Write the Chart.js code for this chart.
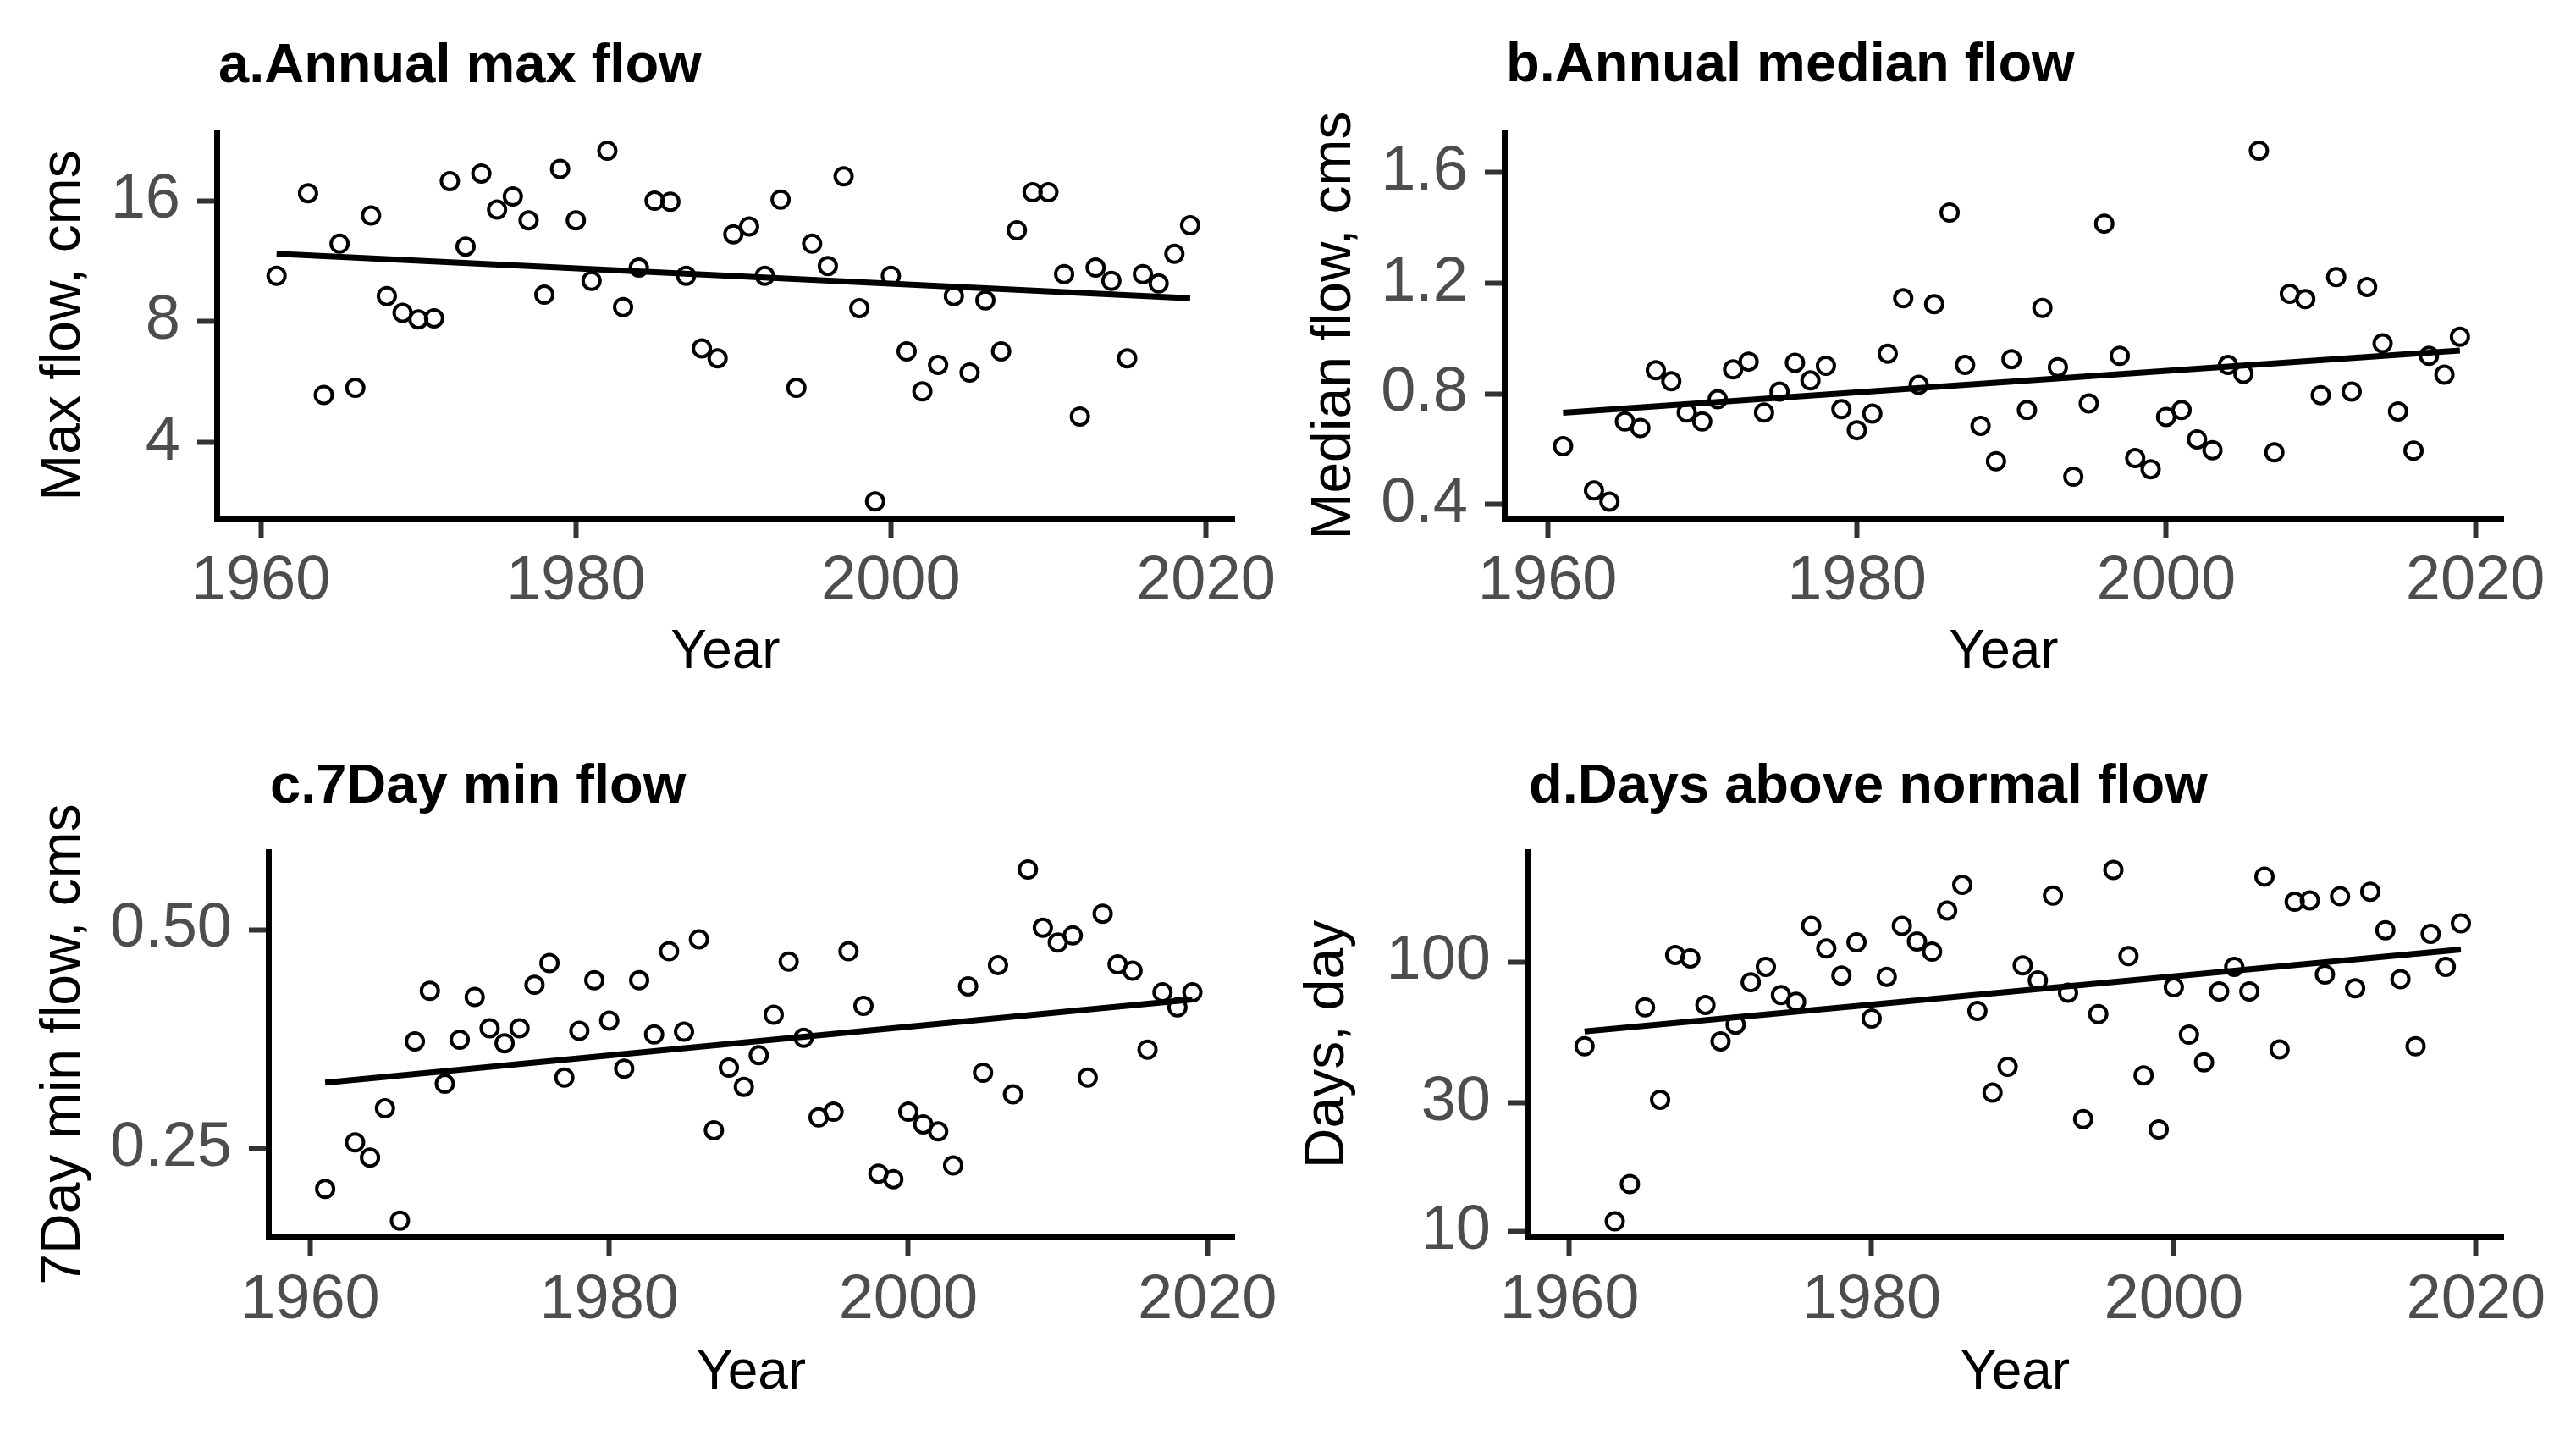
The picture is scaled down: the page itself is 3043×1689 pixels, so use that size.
<!DOCTYPE html>
<html>
<head>
<meta charset="utf-8">
<script src="https://cdn.jsdelivr.net/npm/chart.js@4.4.1/dist/chart.umd.min.js"></script>
<style>
  html, body { margin: 0; padding: 0; background: #fff; }
  #wrap { position: relative; width: 3043px; height: 1689px; background: #fff; }
  canvas { position: absolute; }
</style>
</head>
<body>
<div id="wrap">
  <canvas id="pa" width="1521" height="845" style="left:0px;top:0px"></canvas>
  <canvas id="pb" width="1522" height="845" style="left:1521px;top:0px"></canvas>
  <canvas id="pc" width="1521" height="844" style="left:0px;top:845px"></canvas>
  <canvas id="pd" width="1522" height="844" style="left:1521px;top:845px"></canvas>
</div>
<script>
// years on record (1962 is missing in all series)
var years = [1961, 1963, 1964, 1965, 1966, 1967, 1968, 1969, 1970, 1971,
  1972, 1973, 1974, 1975, 1976, 1977, 1978, 1979, 1980, 1981,
  1982, 1983, 1984, 1985, 1986, 1987, 1988, 1989, 1990, 1991,
  1992, 1993, 1994, 1995, 1996, 1997, 1998, 1999, 2000, 2001,
  2002, 2003, 2004, 2005, 2006, 2007, 2008, 2009, 2010, 2011,
  2012, 2013, 2014, 2015, 2016, 2017, 2018, 2019];

var maxFlow = [10.4, 16.7, 5.25, 12.5, 5.47, 14.7, 9.26, 8.41, 8.10, 8.15,
  17.9, 12.3, 18.7, 15.2, 16.4, 14.3, 9.33, 19.2, 14.3, 10.1,
  21.3, 8.69, 10.9, 16.0, 15.9, 10.4, 6.86, 6.48, 13.2, 13.8,
  10.4, 16.1, 5.47, 12.5, 11.0, 18.4, 8.64, 2.85, 10.4, 6.74,
  5.36, 6.24, 9.26, 5.97, 9.03, 6.74, 13.5, 16.8, 16.8, 10.5,
  4.64, 10.9, 10.1, 6.48, 10.5, 9.95, 11.8, 13.9];

var medianFlow = [0.61, 0.45, 0.41, 0.70, 0.676, 0.885, 0.845, 0.732, 0.70, 0.78,
  0.888, 0.916, 0.732, 0.808, 0.912, 0.848, 0.901, 0.744, 0.668, 0.728,
  0.945, 1.145, 0.832, 1.124, 1.455, 0.904, 0.684, 0.556, 0.925, 0.741,
  1.110, 0.896, 0.50, 0.765, 1.415, 0.937, 0.567, 0.527, 0.716, 0.741,
  0.635, 0.596, 0.904, 0.872, 1.679, 0.588, 1.161, 1.142, 0.795, 1.222,
  0.808, 1.186, 0.982, 0.736, 0.594, 0.937, 0.869, 1.006];

var minFlow7 = [0.220, 0.255, 0.243, 0.284, 0.199, 0.351, 0.412, 0.307, 0.353, 0.404,
  0.366, 0.349, 0.366, 0.420, 0.450, 0.313, 0.363, 0.426, 0.375, 0.322,
  0.426, 0.359, 0.467, 0.362, 0.485, 0.265, 0.323, 0.304, 0.336, 0.382,
  0.452, 0.355, 0.276, 0.281, 0.467, 0.393, 0.231, 0.227, 0.281, 0.270,
  0.264, 0.237, 0.418, 0.318, 0.447, 0.297, 0.605, 0.503, 0.480, 0.491,
  0.313, 0.526, 0.448, 0.439, 0.342, 0.410, 0.391, 0.410];

var daysAbove = [48.6, 10.9, 15.0, 67.8, 30.8, 106, 103, 69.2, 50.7, 58.5,
  84, 95.8, 75.3, 71.1, 136, 112, 88.9, 118, 61.6, 88,
  136, 119, 109, 155, 193, 65.7, 32.7, 40.8, 97, 85.3,
  176, 76.8, 26.1, 64, 219, 105, 37.9, 23.9, 80.5, 53.7,
  42.4, 77.7, 95.8, 77.7, 207, 47.3, 167, 169, 89.7, 175,
  79.8, 182, 131, 86.3, 48.6, 127, 95.8, 139];

// fitted trend lines (start / end)
var trendYears = [1961, 2019];
var maxTrend = [11.8, 9.14];
var medianTrend = [0.731, 0.956];
var minTrend = [0.308, 0.401];
var daysTrend = [55.2, 111];

var xTicks = [1960, 1980, 2000, 2020];
var maxTicks = [4, 8, 16];
var medianTicks = [0.4, 0.8, 1.2, 1.6];
var minTicks = [0.25, 0.5];
var daysTicks = [10, 30, 100];

Chart.defaults.font.family = '"Liberation Sans", Arial, sans-serif';
Chart.defaults.animation = false;

// ggplot style title, left aligned with the panel
var panelTitle = {
  id: 'panelTitle',
  afterDraw: function(chart, args, o) {
    var ctx = chart.ctx;
    ctx.save();
    ctx.font = 'bold 65px "Liberation Sans", Arial, sans-serif';
    ctx.fillStyle = '#000';
    ctx.textBaseline = 'alphabetic';
    ctx.textAlign = 'left';
    ctx.fillText(o.text, chart.chartArea.left + 2, o.y);
    ctx.restore();
  }
};

function makePanel(id, p) {
  var pts = years.map(function(y, i) { return {x: y, y: p.values[i]}; });
  var trend = trendYears.map(function(y, i) { return {x: y, y: p.trend[i]}; });
  var canvas = document.getElementById(id);

  return new Chart(canvas, {
    type: 'scatter',
    data: {
      datasets: [{
        data: trend,
        showLine: true,
        borderColor: '#000',
        borderWidth: 7,
        pointRadius: 0,
        fill: false
      }, {
        data: pts,
        pointRadius: 10,
        pointBorderWidth: 4,
        pointBorderColor: '#000',
        pointBackgroundColor: 'rgba(0,0,0,0)'
      }]
    },
    options: {
      responsive: false,
      devicePixelRatio: 1,
      layout: {
        padding: {left: 0, top: p.top, right: canvas.width - p.right, bottom: 0}
      },
      plugins: {
        legend: {display: false},
        tooltip: {enabled: false},
        panelTitle: {text: p.title, y: p.titleY}
      },
      scales: {
        x: {
          type: 'linear',
          min: 1957.2,
          max: 2021.8,
          afterBuildTicks: function(s) { s.ticks = xTicks.map(function(v) { return {value: v}; }); },
          afterFit: function(s) { s.height = canvas.height - p.bottom; },
          ticks: {
            callback: function(v) { return String(v); },
            color: '#4d4d4d',
            font: {size: 74},
            padding: 8,
            maxRotation: 0,
            autoSkip: false
          },
          grid: {drawOnChartArea: false, tickLength: 23, tickWidth: 6, tickColor: '#333'},
          border: {display: true, color: '#000', width: 7},
          title: {display: true, text: 'Year', color: '#000', font: {size: 64}, padding: {top: 0, bottom: p.xTitlePad}}
        },
        y: {
          type: p.yType,
          min: p.yMin,
          max: p.yMax,
          afterBuildTicks: function(s) { s.ticks = p.yTicks.map(function(v) { return {value: v}; }); },
          afterFit: function(s) { s.width = p.left; },
          ticks: {
            callback: p.fmt,
            color: '#4d4d4d',
            font: {size: 74},
            padding: 20,
            autoSkip: false
          },
          grid: {drawOnChartArea: false, tickLength: 23, tickWidth: 6, tickColor: '#333'},
          border: {display: true, color: '#000', width: 7},
          title: {display: true, text: p.yTitle, color: '#000', font: {size: 66}, padding: {top: p.yTitlePad, bottom: 0}}
        }
      }
    },
    plugins: [panelTitle]
  });
}

makePanel('pa', {
  title: 'a.Annual max flow', titleY: 97,
  values: maxFlow, trend: maxTrend,
  yType: 'logarithmic', yMin: 2.59, yMax: 23.6, yTicks: maxTicks,
  fmt: function(v) { return String(v); },
  yTitle: 'Max flow, cms', yTitlePad: 36, xTitlePad: 35,
  left: 256, right: 1458, top: 157, bottom: 612
});

makePanel('pb', {
  title: 'b.Annual median flow', titleY: 96,
  values: medianFlow, trend: medianTrend,
  yType: 'linear', yMin: 0.35, yMax: 1.743, yTicks: medianTicks,
  fmt: function(v) { return v.toFixed(1); },
  yTitle: 'Median flow, cms', yTitlePad: 16, xTitlePad: 35,
  left: 256, right: 1436, top: 157, bottom: 612
});

makePanel('pc', {
  title: 'c.7Day min flow', titleY: 103,
  values: minFlow7, trend: minTrend,
  yType: 'logarithmic', yMin: 0.189, yMax: 0.64, yTicks: minTicks,
  fmt: function(v) { return v.toFixed(2); },
  yTitle: '7Day min flow, cms', yTitlePad: 36, xTitlePad: 28,
  left: 317, right: 1458, top: 161, bottom: 616
});

makePanel('pd', {
  title: 'd.Days above normal flow', titleY: 103,
  values: daysAbove, trend: daysTrend,
  yType: 'logarithmic', yMin: 9.54, yMax: 256, yTicks: daysTicks,
  fmt: function(v) { return String(v); },
  yTitle: 'Days, day', yTitlePad: 8, xTitlePad: 28,
  left: 283, right: 1436, top: 161, bottom: 616
});
</script>
</body>
</html>
